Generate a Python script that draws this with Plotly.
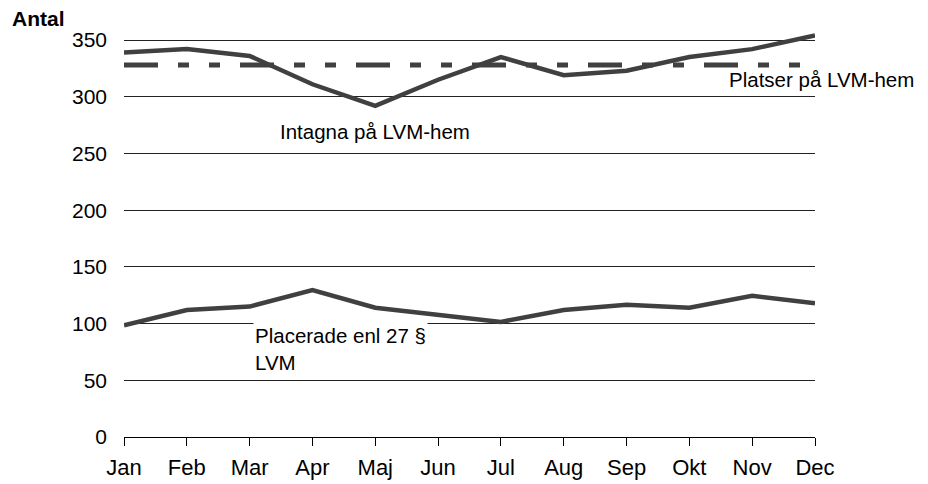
import plotly.graph_objects as go

months = ["Jan", "Feb", "Mar", "Apr", "Maj", "Jun", "Jul", "Aug", "Sep", "Okt", "Nov", "Dec"]
intagna = [339, 342, 336, 311, 292, 315, 335, 319, 323, 335, 342, 354]
platser = [328] * 12
placerade = [98.5, 112, 115, 129.5, 114, 107.5, 101.5, 112, 116.5, 114, 124.5, 118]
y_ticks = [0, 50, 100, 150, 200, 250, 300, 350]

LINE = "#404040"
FONT = "Liberation Sans, Arial, sans-serif"

fig = go.Figure()
fig.add_trace(go.Scatter(x=months, y=platser, mode="lines",
                         line=dict(color=LINE, width=5, dash="34px,20px,11px,20px,11px,20px"),
                         name="Platser på LVM-hem"))
fig.add_trace(go.Scatter(x=months, y=intagna, mode="lines",
                         line=dict(color=LINE, width=4.5), name="Intagna på LVM-hem"))
fig.add_trace(go.Scatter(x=months, y=placerade, mode="lines",
                         line=dict(color=LINE, width=4.5), name="Placerade enl 27 § LVM"))

fig.update_layout(
    width=920, height=476,
    margin=dict(l=116, r=113, t=25, b=47),
    paper_bgcolor="white", plot_bgcolor="white",
    showlegend=False,
    font=dict(family=FONT, color="black"),
    xaxis=dict(type="category", range=[0, 11], showgrid=False, automargin=False,
               showline=True, linecolor="black", linewidth=1,
               ticks="outside", ticklen=8, tickcolor="black", tickwidth=1,
               tickfont=dict(size=22), ticklabelstandoff=3, zeroline=False),
    yaxis=dict(range=[0, 356.2], tickvals=y_ticks, showgrid=True, automargin=False,
               gridcolor="#222222", gridwidth=1, showline=False, zeroline=False,
               tickfont=dict(size=21), ticklabelstandoff=16),
    annotations=[
        dict(text="<b>Antal</b>", xref="paper", yref="paper", x=-0.165, y=1.037,
             xanchor="left", yanchor="middle", showarrow=False, font=dict(size=21)),
        dict(text="Intagna på LVM-hem", x=4, y=269, xanchor="center", yanchor="middle",
             showarrow=False, font=dict(size=20.5)),
        dict(text="Platser på LVM-hem", x=9.6, y=315, xanchor="left", yanchor="middle",
             showarrow=False, font=dict(size=20.5)),
        dict(text="Placerade enl 27 §<br>LVM", x=2.05, y=77.6, xanchor="left", yanchor="middle",
             align="left", showarrow=False, font=dict(size=20.5), bgcolor="white"),
    ],
)

fig.write_html("out.html")
